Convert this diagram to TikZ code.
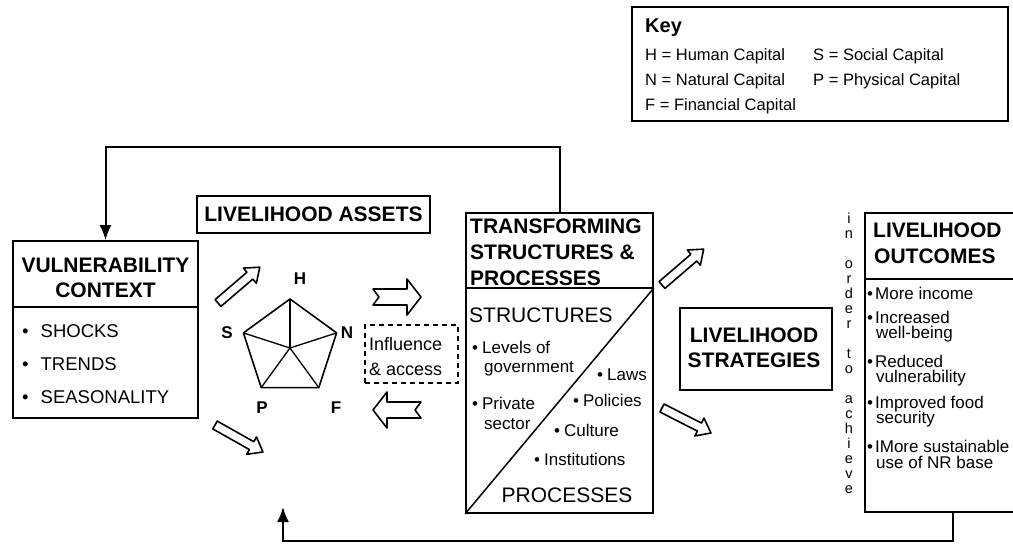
\documentclass[tikz,border=0pt]{standalone}
\usepackage{fontspec}
\setmainfont{Liberation Sans}
\usetikzlibrary{arrows.meta}

\tikzset{
  pics/thinarrow/.style={code={%
    \draw[line width=1.6pt, line join=round, fill=white]
      (0,-4.5) -- (42,-4.5) -- (42,-10) -- (55,0) -- (42,10) -- (42,4.5) -- (0,4.5) -- cycle;}},
  pics/fatarrow/.style={code={%
    \draw[line width=1.6pt, line join=round, fill=white]
      (0,-8) -- (34,-8) -- (34,-18) -- (48,0) -- (34,18) -- (34,8) -- (0,8) -- (6,0) -- cycle;}}
}

\begin{document}
\begin{tikzpicture}[x=1pt, y=-1pt,
    box/.style={draw, line width=1.7pt, inner sep=0pt},
    head/.style={font=\fontsize{21}{25}\selectfont\bfseries, inner sep=0pt},
    big/.style={font=\fontsize{21}{25}\selectfont, inner sep=0pt},
    body/.style={font=\fontsize{17}{20}\selectfont, inner sep=0pt, anchor=base west},
    keytext/.style={font=\fontsize{16.5}{20}\selectfont, inner sep=0pt, anchor=base west},
    capital/.style={font=\fontsize{17}{20}\selectfont\bfseries, inner sep=0pt},
    feedback/.style={line width=2pt, -{Latex[length=15pt, width=12pt]}}]

  \useasboundingbox (0,0) rectangle (1013,544);
  \clip (0,0) rectangle (1013,544);

  % key
  \node[box, minimum width=376pt, minimum height=114pt] (key) at (820,64) {};
  \node[head, anchor=base west, font=\fontsize{20}{24}\selectfont\bfseries] (keyt) at (645,32) {Key};
  \node[keytext] (kH) at (645,60) {H = Human Capital};
  \node[keytext] (kS) at (813,60) {S = Social Capital};
  \node[keytext] (kN) at (645,85) {N = Natural Capital};
  \node[keytext] (kP) at (813,85) {P = Physical Capital};
  \node[keytext] (kF) at (645,110) {F = Financial Capital};

  % vulnerability context
  \node[box, minimum width=185pt, minimum height=177pt] (vc) at (105.5,329.5) {};
  \coordinate (vcdiv) at (0,307);
  \draw[line width=1.7pt] (vc.west |- vcdiv) -- (vc.east |- vcdiv);
  \node[head, align=center] (vct) at (105.5,277.5) {VULNERABILITY\\CONTEXT};
  \node[body, font=\fontsize{18.5}{20}\selectfont] (vc1) at (22,337) {\textbullet\hspace{12pt}SHOCKS};
  \node[body, font=\fontsize{18.5}{20}\selectfont] (vc2) at (22,370) {\textbullet\hspace{12pt}TRENDS};
  \node[body, font=\fontsize{18.5}{20}\selectfont] (vc3) at (22,403) {\textbullet\hspace{12pt}SEASONALITY};

  % livelihood assets
  \node[box, head, minimum width=233pt, minimum height=37pt] (la) at (313.5,214.5) {LIVELIHOOD ASSETS};
  \coordinate (pc) at (290,348);
  \coordinate (pH) at (290,299);
  \coordinate (pN) at (336.6,332.9);
  \coordinate (pF) at (318.8,387.6);
  \coordinate (pP) at (261.2,387.6);
  \coordinate (pS) at (243.4,332.9);
  \draw[line width=1.6pt, line join=round] (pH) -- (pN) -- (pF) -- (pP) -- (pS) -- cycle;
  \foreach \v in {pH,pN,pF,pP,pS}
    \draw[line width=1.3pt] (pc) -- (\v);
  \node[capital] (lH) at (300,279) {H};
  \node[capital] (lS) at (227,333) {S};
  \node[capital] (lN) at (347,333) {N};
  \node[capital] (lP) at (262,408) {P};
  \node[capital] (lF) at (336,408) {F};

  \pic at (218,303) [rotate=40.6] {thinarrow};
  \pic at (215,425) [rotate=-29.4] {thinarrow};
  \pic at (373,297) {fatarrow};
  \pic at (421,410) [rotate=180] {fatarrow};

  % influence and access
  \node[draw, dashed, dash pattern=on 5pt off 4pt, line width=1.5pt,
        minimum width=93pt, minimum height=58pt] (ia) at (411.5,354) {};
  \node[body, font=\fontsize{18}{20}\selectfont] (ia1) at (369,350) {Influence};
  \node[body, font=\fontsize{18}{20}\selectfont] (ia2) at (369,375) {\& access};

  % transforming structures and processes
  \node[box, minimum width=187pt, minimum height=300pt] (ts) at (559.5,363) {};
  \coordinate (tsdiv) at (0,288);
  \draw[line width=1.7pt] (ts.west |- tsdiv) -- (ts.east |- tsdiv);
  \draw[line width=1.5pt] (ts.south west) -- (ts.east |- tsdiv);
  \node[head, anchor=base west] (tst1) at (470,233) {TRANSFORMING};
  \node[head, anchor=base west] (tst2) at (470,259) {STRUCTURES \&};
  \node[head, anchor=base west] (tst3) at (470,285) {PROCESSES};
  \node[big, anchor=base west] (tss) at (469,322) {STRUCTURES};
  \node[body] (ts1) at (472,353) {\textbullet\hspace{4pt}Levels of};
  \node[body] (ts1b) at (484,372) {government};
  \node[body] (ts2) at (472,409) {\textbullet\hspace{4pt}Private};
  \node[body] (ts2b) at (484,429) {sector};
  \node[body] (ts3) at (597,380) {\textbullet\hspace{4pt}Laws};
  \node[body] (ts4) at (573,406) {\textbullet\hspace{4pt}Policies};
  \node[body] (ts5) at (554,436) {\textbullet\hspace{4pt}Culture};
  \node[body] (ts6) at (534,465) {\textbullet\hspace{4pt}Institutions};
  \node[big, anchor=base] (tsp) at (567,502) {PROCESSES};

  \pic at (662,285) [rotate=40.7] {thinarrow};
  \pic at (662,408) [rotate=-27] {thinarrow};

  % livelihood strategies
  \node[box, minimum width=152pt, minimum height=82pt] (ls) at (756,349) {};
  \node[head, align=center] (lst) at (754,348) {LIVELIHOOD\\STRATEGIES};

  \node[font=\fontsize{14.5}{15}\selectfont, align=center, anchor=north, inner sep=0pt] (ioa)
    at (849,213) {i\\n\\[15pt]o\\r\\d\\e\\r\\[15pt]t\\o\\[15pt]a\\c\\h\\i\\e\\v\\e};

  % livelihood outcomes
  \node[box, minimum width=175pt, minimum height=299pt] (lo) at (952.5,362.5) {};
  \coordinate (lodiv) at (0,279);
  \draw[line width=1.7pt] (lo.west |- lodiv) -- (lo.east |- lodiv);
  \node[head, anchor=base west] (lot1) at (873,237) {LIVELIHOOD};
  \node[head, anchor=base west] (lot2) at (874,263) {OUTCOMES};
  \node[body] (lo1) at (867,299) {\textbullet\hspace{2pt}More income};
  \node[body] (lo2) at (867,323) {\textbullet\hspace{2pt}Increased};
  \node[body] (lo2b) at (876,338) {well-being};
  \node[body] (lo3) at (867,367) {\textbullet\hspace{2pt}Reduced};
  \node[body] (lo3b) at (876,382) {vulnerability};
  \node[body] (lo4) at (867,408) {\textbullet\hspace{2pt}Improved food};
  \node[body] (lo4b) at (876,423) {security};
  \node[body] (lo5) at (867,452) {\textbullet\hspace{2pt}IMore sustainable};
  \node[body] (lo5b) at (876,468) {use of NR base};

  % feedback loops
  \coordinate (fbtop) at (330,147);
  \draw[feedback] (ts.north) |- (fbtop) -| (vc.north);
  \coordinate (fbbot) at (600,541);
  \coordinate (assetsin) at (283,507);
  \draw[feedback] (lo.south) |- (fbbot) -| (assetsin);
\end{tikzpicture}
\end{document}
